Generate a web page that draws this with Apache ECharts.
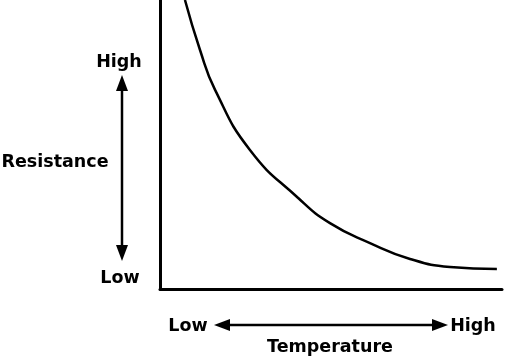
<!DOCTYPE html>
<html>
<head>
<meta charset="utf-8">
<script src="https://cdn.jsdelivr.net/npm/echarts@6/dist/echarts.min.js"></script>
<style>html,body{margin:0;padding:0;background:#fff}#c{width:512px;height:360px}</style>
</head>
<body>
<div id="c"></div>
<script>
// Temperature (x, 0-100 relative) and resistance (y, 0-100 relative)
const temperature = [7.3, 11.7, 16.1, 26.3, 40.4, 49.7, 61.4, 73.1, 84.8, 98.5];
const resistance  = [100, 82.7, 68.9, 48.1, 31.5, 22.8, 15.9, 10.4, 7.6, 6.9];
const yLabels = ["High", "Resistance", "Low"];
const xLabels = ["Low", "Temperature", "High"];

const chart = echarts.init(document.getElementById('c'), null, {renderer: 'canvas'});
const font = '"DejaVu Sans", Verdana, sans-serif';
const txt = (x, y, s) => ({type: 'text', x: x, y: y, style: {text: s, fill: '#000', font: 'bold 17.5px ' + font, textAlign: 'center', textVerticalAlign: 'middle'}});
const arrowStyle = {stroke: '#000', lineWidth: 2.5};
chart.setOption({
  animation: false,
  grid: {left: 160, right: 10, top: 0, bottom: 71},
  xAxis: {type: 'value', min: 0, max: 100, axisLine: {show: true, onZero: false, lineStyle: {color: '#000', width: 3}}, axisTick: {show: false}, axisLabel: {show: false}, splitLine: {show: false}},
  yAxis: {type: 'value', min: 0, max: 100, axisLine: {show: true, onZero: false, lineStyle: {color: '#000', width: 3}}, axisTick: {show: false}, axisLabel: {show: false}, splitLine: {show: false}},
  series: [{
    type: 'line', smooth: 0.5, symbol: 'none', clip: true,
    lineStyle: {color: '#000', width: 2.5},
    data: temperature.map((t, i) => [t, resistance[i]])
  }],
  graphic: [
    txt(119, 62, yLabels[0]),
    txt(55, 162, yLabels[1]),
    txt(120, 278, yLabels[2]),
    txt(188, 326, xLabels[0]),
    txt(330, 347, xLabels[1]),
    txt(473, 326, xLabels[2]),
    {type: 'line', shape: {x1: 122, y1: 88, x2: 122, y2: 248}, style: arrowStyle},
    {type: 'polygon', shape: {points: [[122, 75], [116, 91], [128, 91]]}, style: {fill: '#000'}},
    {type: 'polygon', shape: {points: [[122, 261], [116, 245], [128, 245]]}, style: {fill: '#000'}},
    {type: 'line', shape: {x1: 226, y1: 325, x2: 436, y2: 325}, style: arrowStyle},
    {type: 'polygon', shape: {points: [[214, 325], [230, 319], [230, 331]]}, style: {fill: '#000'}},
    {type: 'polygon', shape: {points: [[448, 325], [432, 319], [432, 331]]}, style: {fill: '#000'}}
  ]
});
</script>
</body>
</html>
